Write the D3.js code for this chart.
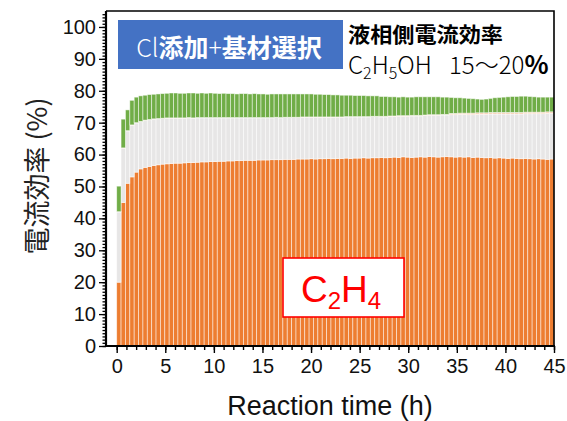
<!DOCTYPE html>
<html>
<head>
<meta charset="utf-8">
<script src="https://cdn.jsdelivr.net/npm/d3@7/dist/d3.min.js"></script>
<style>
  html, body { margin: 0; padding: 0; background: #fff; }
  svg { display: block; }
</style>
</head>
<body>
<svg id="chart" width="567" height="421"></svg>
<script>
// Sampling times (h) of the long-run electrolysis
const times = [
  0,0.45,0.9,1.35,1.8,2.25,2.7,3.15,3.6,4.05,
  4.5,4.95,5.4,5.85,6.3,6.75,7.2,7.65,8.1,8.55,
  9,9.45,9.9,10.35,10.8,11.25,11.7,12.15,12.6,13.05,
  13.5,13.95,14.4,14.85,15.3,15.75,16.2,16.65,17.1,17.55,
  18,18.45,18.9,19.35,19.8,20.25,20.7,21.15,21.6,22.05,
  22.5,22.95,23.4,23.85,24.3,24.75,25.2,25.65,26.1,26.55,
  27,27.45,27.9,28.35,28.8,29.25,29.7,30.15,30.6,31.05,
  31.5,31.95,32.4,32.85,33.3,33.75,34.2,34.65,35.1,35.55,
  36,36.45,36.9,37.35,37.8,38.25,38.7,39.15,39.6,40.05,
  40.5,40.95,41.4,41.85,42.3,42.75,43.2,43.65,44.1,44.55
];
const stepHours = 0.45;

// Faradaic efficiency (%) per product at each time
const c2h4 = [
  20,45,51,53,54.5,55.5,56,56.3,56.6,56.8,
  57.0,57.1,57.2,57.3,57.3,57.4,57.5,57.5,57.6,57.7,
  57.7,57.8,57.8,57.9,57.9,58.0,58.0,58.1,58.1,58.2,
  58.2,58.2,58.3,58.3,58.3,58.4,58.4,58.4,58.5,58.5,
  58.5,58.6,58.6,58.6,58.7,58.6,58.7,58.7,58.8,58.7,
  58.8,58.8,58.9,58.8,58.9,58.9,59.0,58.9,59.0,59.0,
  59.1,59.0,59.1,59.2,59.1,59.3,59.2,59.1,59.2,59.3,
  59.2,59.4,59.3,59.2,59.3,59.4,59.3,59.2,59.3,59.2,
  59.3,59.1,59.2,59.1,59.0,59.1,58.9,59.0,58.9,58.8,
  58.9,58.8,58.7,58.8,58.7,58.6,58.7,58.6,58.5,58.6
];
const liquid = [
  22,17,16.4,16.2,15.4,14.8,14.7,14.6,14.5,14.4,
  14.3,14.3,14.2,14.1,14.1,14.0,14.0,13.9,13.9,13.8,
  13.8,13.7,13.7,13.6,13.6,13.5,13.5,13.4,13.4,13.3,
  13.3,13.3,13.2,13.2,13.2,13.1,13.2,13.1,13.1,13.1,
  13.1,13.0,13.1,13.1,13.0,13.1,13.0,13.0,12.9,13.0,
  12.9,12.9,12.9,13.0,12.9,12.9,12.8,12.9,12.9,12.9,
  12.7,12.8,12.8,12.7,12.9,12.7,12.8,13.0,12.9,12.8,
  13.0,12.9,13.0,13.1,13.1,13.0,13.2,13.3,13.3,13.4,
  13.2,13.4,13.4,13.5,13.6,13.6,13.8,13.7,13.8,13.9,
  13.8,13.9,14.0,14.0,14.1,14.2,14.1,14.2,14.4,14.3
];
const minor = [
  0.1,0.1,0.1,0.1,0.1,0.1,0.1,0.1,0.1,0.1,
  0.1,0.1,0.1,0.1,0.1,0.1,0.1,0.1,0.1,0.1,
  0.1,0.1,0.1,0.1,0.1,0.1,0.1,0.1,0.1,0.1,
  0.1,0.1,0.1,0.1,0.1,0.1,0.1,0.1,0.1,0.1,
  0.1,0.1,0.1,0.1,0.1,0.1,0.1,0.1,0.1,0.1,
  0.1,0.1,0.1,0.1,0.1,0.1,0.1,0.1,0.1,0.1,
  0.2,0.2,0.2,0.2,0.2,0.2,0.2,0.2,0.2,0.2,
  0.2,0.2,0.2,0.2,0.2,0.2,0.4,0.4,0.4,0.4,
  0.5,0.5,0.5,0.5,0.5,0.5,0.5,0.5,0.5,0.5,
  0.5,0.5,0.5,0.5,0.5,0.5,0.5,0.5,0.5,0.5
];
const gas = [
  8,9,6.5,7.7,8.0,8.0,7.8,7.8,7.7,7.7,
  7.7,7.7,7.8,7.8,7.7,7.7,7.7,7.8,7.6,7.7,
  7.6,7.7,7.6,7.5,7.6,7.5,7.5,7.4,7.5,7.5,
  7.4,7.5,7.4,7.4,7.3,7.4,7.3,7.4,7.3,7.3,
  7.3,7.3,7.2,7.2,7.2,7.1,7.1,7.0,7.0,6.9,
  6.9,6.8,6.7,6.7,6.6,6.6,6.6,6.5,6.4,6.4,
  6.2,6.2,6.0,6.0,5.8,5.9,5.8,5.7,5.8,5.8,
  5.7,5.6,5.6,5.6,5.4,5.4,5.0,4.9,4.8,4.7,
  4.6,4.5,4.3,4.2,4.3,4.4,4.6,4.7,4.8,4.9,
  5.0,5.0,5.1,5.0,4.9,4.8,4.7,4.7,4.6,4.6
];

const seriesKeys = ["c2h4", "liquid", "minor", "gas"];
const seriesColors = ["#ED7D31", "#E7E6E6", "#F8CBAD", "#70AD47"];

const xTicks = [0,5,10,15,20,25,30,35,40,45];
const yTicks = [0,10,20,30,40,50,60,70,80,90,100];

const rows = times.map((t, i) => ({
  t, c2h4: c2h4[i], liquid: liquid[i], minor: minor[i], gas: gas[i]
}));

const svg = d3.select("#chart");
const plot = { left: 106, right: 554, top: 11, bottom: 346 };

const x = d3.scaleLinear().domain([-1.1, 45]).range([plot.left, plot.right]);
const y = d3.scaleLinear().domain([0, 105]).range([plot.bottom, plot.top]);

svg.append("defs").append("clipPath").attr("id", "plotClip")
  .append("rect")
  .attr("x", plot.left).attr("y", plot.top)
  .attr("width", plot.right - plot.left).attr("height", plot.bottom - plot.top);

// Stacked bars
const stacked = d3.stack().keys(seriesKeys)(rows);
const barsG = svg.append("g").attr("clip-path", "url(#plotClip)");
barsG.selectAll("g.layer")
  .data(stacked)
  .join("g")
  .attr("class", "layer")
  .attr("fill", (d, i) => seriesColors[i])
  .selectAll("rect")
  .data(d => d)
  .join("rect")
  .attr("x", d => x(d.data.t))
  .attr("width", d => x(d.data.t + stepHours) - x(d.data.t))
  .attr("y", d => y(d[1]))
  .attr("height", d => Math.max(0, y(d[0]) - y(d[1])))
  .attr("stroke", "#ffffff")
  .attr("stroke-opacity", 0.6)
  .attr("stroke-width", 0.8);

const tickFont = "'Liberation Sans', Arial, sans-serif";
const cjk = "'Noto Sans CJK JP', sans-serif";

// Frame (top and right edges)
svg.append("path")
  .attr("d", `M${plot.left},${plot.top}H${plot.right}V${plot.bottom}`)
  .attr("fill", "none").attr("stroke", "#000").attr("stroke-width", 1.6);

// X axis
const xAxisG = svg.append("g").attr("transform", `translate(0,${plot.bottom})`);
xAxisG.call(d3.axisBottom(x).tickValues(d3.range(0, 46, 1)).tickSize(4).tickFormat(""))
  .call(g => g.select(".domain").remove());
xAxisG.append("g")
  .call(d3.axisBottom(x).tickValues(xTicks).tickSize(7).tickPadding(6).tickFormat(d3.format("d")))
  .call(g => g.select(".domain").remove())
  .call(g => g.selectAll("text").attr("font-size", 20).attr("font-family", tickFont).attr("fill", "#111"));
xAxisG.selectAll("line").attr("stroke", "#000").attr("stroke-width", 1.4);
xAxisG.append("line")
  .attr("x1", plot.left - 1).attr("x2", plot.right + 1)
  .attr("stroke", "#000").attr("stroke-width", 2.2);

// Y axis
const yAxisG = svg.append("g").attr("transform", `translate(${plot.left},0)`);
yAxisG.call(d3.axisLeft(y).tickValues(d3.range(0, 105, 1)).tickSize(3.5).tickFormat(""))
  .call(g => g.select(".domain").remove());
yAxisG.append("g")
  .call(d3.axisLeft(y).tickValues(yTicks).tickSize(7).tickPadding(3).tickFormat(d3.format("d")))
  .call(g => g.select(".domain").remove())
  .call(g => g.selectAll("text").attr("font-size", 20).attr("font-family", tickFont).attr("fill", "#111"));
yAxisG.selectAll("line").attr("stroke", "#000").attr("stroke-width", 1.3);
yAxisG.append("line")
  .attr("y1", plot.top).attr("y2", plot.bottom + 1)
  .attr("stroke", "#000").attr("stroke-width", 2.2);

// Axis titles
svg.append("text")
  .attr("x", 330).attr("y", 415)
  .attr("text-anchor", "middle")
  .attr("font-family", tickFont).attr("font-size", 27).attr("fill", "#111")
  .text("Reaction time (h)");

svg.append("text")
  .attr("transform", "translate(47,176) rotate(-90)")
  .attr("text-anchor", "middle")
  .attr("font-family", cjk).attr("font-size", 27).attr("fill", "#222")
  .text("電流効率 (%)");

// Condition label (blue box)
svg.append("rect")
  .attr("x", 118).attr("y", 20).attr("width", 225).attr("height", 49)
  .attr("fill", "#4472C4");
const condText = svg.append("text")
  .attr("x", 229).attr("y", 57)
  .attr("text-anchor", "middle")
  .attr("font-family", cjk).attr("font-size", 25).attr("fill", "#fff");
condText.append("tspan").attr("font-weight", 300).text("Cl");
condText.append("tspan").attr("font-weight", 700).text("添加");
condText.append("tspan").attr("font-weight", 300).text("+");
condText.append("tspan").attr("font-weight", 700).text("基材選択");

// Liquid-phase efficiency note
svg.append("text")
  .attr("x", 348).attr("y", 42)
  .attr("font-family", cjk).attr("font-size", 21).attr("font-weight", 700)
  .attr("fill", "#000").attr("textLength", 155).attr("lengthAdjust", "spacingAndGlyphs")
  .text("液相側電流効率");
const liqText = svg.append("text")
  .attr("x", 348).attr("y", 74)
  .attr("font-family", cjk).attr("font-size", 24).attr("font-weight", 300).attr("fill", "#000");
liqText.append("tspan").text("C");
liqText.append("tspan").attr("font-size", 16).attr("dy", 5).text("2");
liqText.append("tspan").attr("dy", -5).text("H");
liqText.append("tspan").attr("font-size", 16).attr("dy", 5).text("5");
liqText.append("tspan").attr("dy", -5).text("OH\u2002 15〜20");
liqText.append("tspan").attr("font-weight", 700).attr("font-size", 25).text("%");

// Product label
svg.append("rect")
  .attr("x", 283).attr("y", 258).attr("width", 121).attr("height", 59)
  .attr("fill", "#fff").attr("stroke", "#FF0000").attr("stroke-width", 1.6);
const prodText = svg.append("text")
  .attr("x", 341).attr("y", 302)
  .attr("text-anchor", "middle")
  .attr("font-family", tickFont).attr("font-size", 37).attr("fill", "#FF0000");
prodText.append("tspan").text("C");
prodText.append("tspan").attr("font-size", 24).attr("dy", 7).text("2");
prodText.append("tspan").attr("dy", -7).text("H");
prodText.append("tspan").attr("font-size", 24).attr("dy", 7).text("4");
</script>
</body>
</html>
